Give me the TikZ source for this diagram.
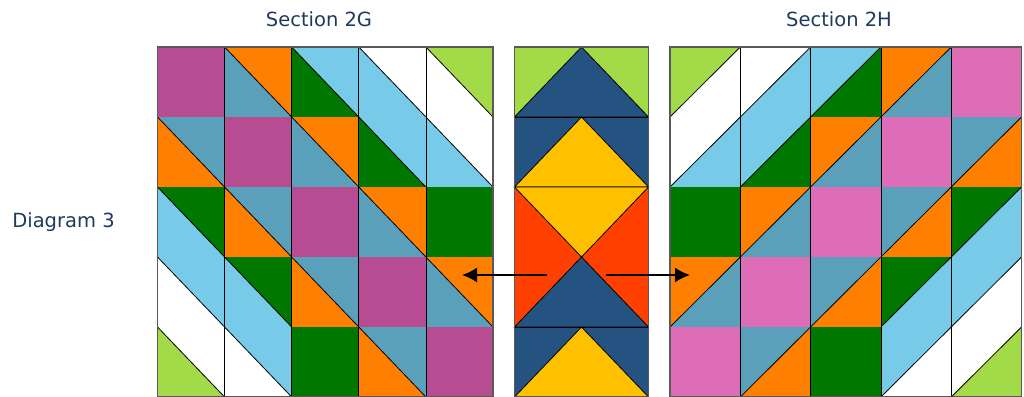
\documentclass[tikz,border=0pt]{standalone}
\usepackage{fontspec}
\setmainfont{DejaVu Sans}
\usetikzlibrary{arrows.meta}
\definecolor{mag}{HTML}{B84C93}
\definecolor{pnk}{HTML}{DE6DB8}
\definecolor{ora}{HTML}{FF8000}
\definecolor{tea}{HTML}{5AA0BA}
\definecolor{lbl}{HTML}{78CBE8}
\definecolor{dgr}{HTML}{007800}
\definecolor{lim}{HTML}{A3DB48}
\definecolor{nav}{HTML}{245381}
\definecolor{yel}{HTML}{FFC000}
\definecolor{red}{HTML}{FF4000}
\definecolor{txt}{HTML}{1F3A5F}
\begin{document}
\begin{tikzpicture}[
  x=1pt, y=-1pt,
  label/.style={text=txt, font=\fontsize{19.5}{22}\selectfont, inner sep=0pt},
  edge/.style={draw=black, line width=0.8pt},
  rim/.style={draw=black!65, line width=1.2pt},
  arrow/.style={-{Latex[length=15pt,width=15pt]}, line width=2pt},
]
\clip (0,0) rectangle (1024,396);
\fill[white] (0,0) rectangle (1024,396);
% left grid: origin (157.5,47), cell 67.1 x 70
% right grid: origin (670,47), cell 70.3 x 70, mirror of the left one
\foreach \c/\r/\up/\lo in {2/1/ora/tea, 3/1/lbl/dgr, 4/1/white/lbl, 5/1/lim/white,
  1/2/tea/ora, 3/2/ora/tea, 4/2/lbl/dgr, 5/2/white/lbl,
  1/3/dgr/lbl, 2/3/tea/ora, 4/3/ora/tea,
  1/4/lbl/white, 2/4/dgr/lbl, 3/4/tea/ora, 5/4/ora/tea,
  1/5/white/lim, 2/5/lbl/white, 4/5/tea/ora}{
  \pgfmathsetmacro\xl{157.5+(\c-1)*67.1}
  \pgfmathsetmacro\xr{670+(5-\c)*70.3}
  \pgfmathsetmacro\yt{47+(\r-1)*70}
  % left cell, cut top-left to bottom-right
  \fill[\up] (\xl,\yt) -- ++(67.1,0) -- ++(0,70) -- cycle;
  \fill[\lo] (\xl,\yt) -- ++(0,70) -- ++(67.1,0) -- cycle;
  \draw[edge] (\xl,\yt) -- ++(67.1,70);
  % right cell, cut bottom-left to top-right
  \fill[\up] (\xr,\yt) -- ++(70.3,0) -- ++(-70.3,70) -- cycle;
  \fill[\lo] (\xr,\yt) ++(70.3,0) -- ++(0,70) -- ++(-70.3,0) -- cycle;
  \draw[edge] (\xr,\yt) ++(0,70) -- ++(70.3,-70);
}
\foreach \c/\r/\col in {1/1/mag, 2/2/mag, 3/3/mag, 4/4/mag, 5/5/mag, 5/3/dgr, 3/5/dgr}
  \fill[\col] ({157.5+(\c-1)*67.1},{47+(\r-1)*70}) rectangle ++(67.1,70);
\foreach \c/\r/\col in {1/1/pnk, 2/2/pnk, 3/3/pnk, 4/4/pnk, 5/5/pnk, 5/3/dgr, 3/5/dgr}
  \fill[\col] ({670+(5-\c)*70.3},{47+(\r-1)*70}) rectangle ++(70.3,70);
\draw[edge, xstep=67.1, ystep=70, shift={(157.5,47)}] (0,0) grid (335.5,350);
\draw[edge, xstep=70.3, ystep=70, shift={(670,47)}] (0,0) grid (351.5,350);
\draw[rim] (157.5,47) rectangle ++(335.5,350);
\draw[rim] (670,47) rectangle ++(351.5,350);
% middle strip
\fill[lim] (514.5,47) rectangle (648.5,117);
\fill[nav] (514.5,117) rectangle (648.5,187);
\fill[red] (514.5,187) rectangle (648.5,327);
\fill[nav] (514.5,327) rectangle (648.5,397);
\filldraw[nav, edge] (514.5,117) -- (581.5,47) -- (648.5,117) -- cycle;
\filldraw[yel, edge] (514.5,187) -- (581.5,117) -- (648.5,187) -- cycle;
\filldraw[yel, edge] (514.5,187) -- (648.5,187) -- (581.5,257) -- cycle;
\filldraw[nav, edge] (514.5,327) -- (581.5,257) -- (648.5,327) -- cycle;
\filldraw[yel, edge] (514.5,397) -- (581.5,327) -- (648.5,397) -- cycle;
\draw[edge] (514.5,117) -- (648.5,117) (514.5,327) -- (648.5,327);
\draw[rim] (514.5,47) rectangle (648.5,397);
% labels
\node[label] (secG) at (319,19) {Section 2G};
\node[label] (secH) at (839,19) {Section 2H};
\node[label] (diag) at (63.5,222) {Diagram 3};
% arrows
\coordinate (lfrom) at (547,275);
\coordinate (lto) at (462,275);
\coordinate (rfrom) at (606,275);
\coordinate (rto) at (690,275);
\draw[arrow] (lfrom) -- (lto);
\draw[arrow] (rfrom) -- (rto);
\end{tikzpicture}
\end{document}
